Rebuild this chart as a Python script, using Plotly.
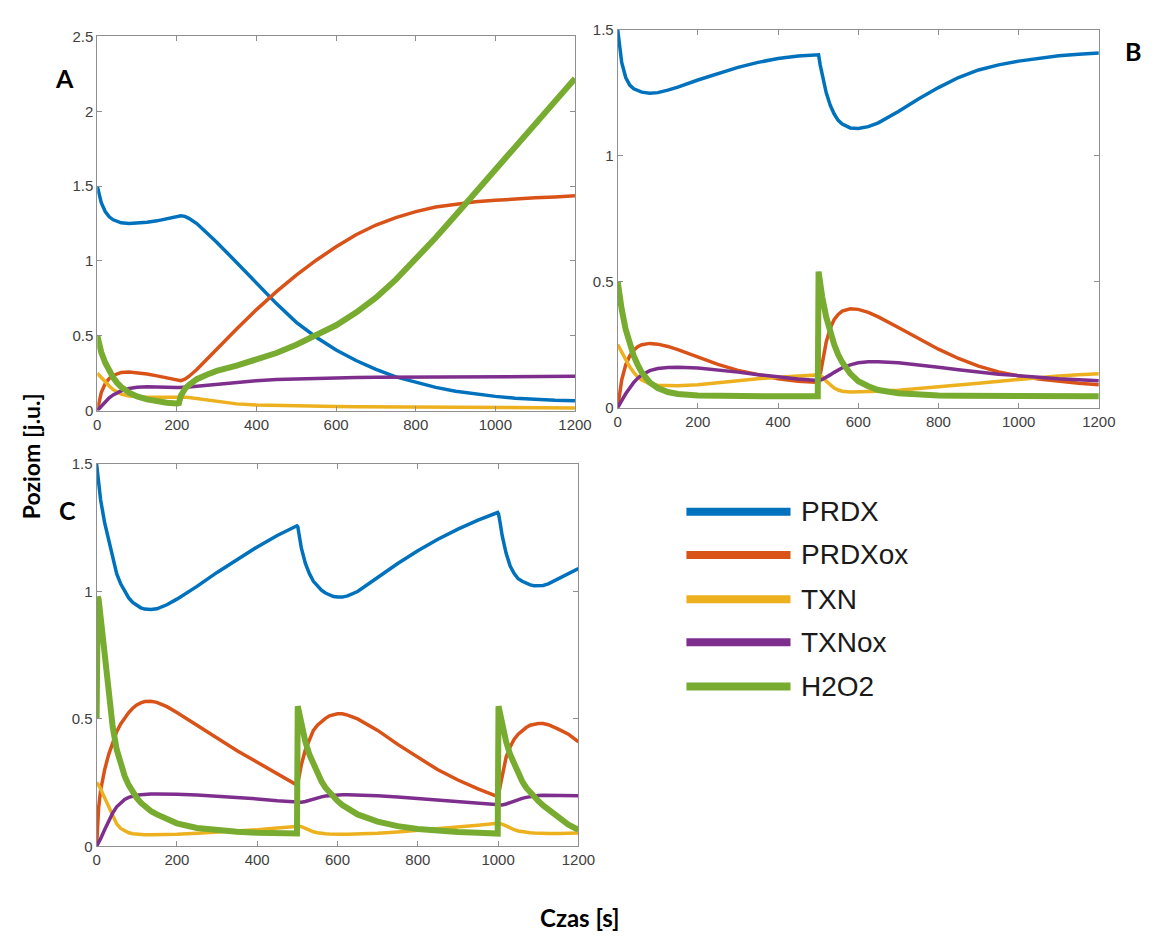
import plotly.graph_objects as go

W, H = 1161, 940

# ---------------- data ----------------
series_names = ["PRDX", "PRDXox", "TXN", "TXNox", "H2O2"]
series_colors = ["#0072BD", "#D95319", "#EDB120", "#7E2F8E", "#77AC30"]
series_widths = [3.5, 3.5, 3.5, 3.5, 6]

# Panel A
tA = [0, 5, 10, 20, 30, 40, 50, 60, 80, 100, 125, 150, 175, 200, 205, 210, 220, 230, 250, 275,
      300, 350, 400, 450, 500, 550, 600, 650, 700, 750, 800, 850, 900, 950, 1000, 1050, 1100, 1150, 1200]
A_PRDX = [1.5, 1.44, 1.39, 1.33, 1.295, 1.275, 1.262, 1.255, 1.25, 1.252, 1.258, 1.268, 1.28, 1.295, 1.3, 1.302, 1.298, 1.285, 1.25, 1.19,
          1.125, 0.99, 0.85, 0.715, 0.59, 0.49, 0.405, 0.335, 0.275, 0.225, 0.19, 0.155, 0.13, 0.11, 0.095, 0.083, 0.075, 0.069, 0.065]
A_PRDXox = [0, 0.07, 0.12, 0.18, 0.215, 0.235, 0.248, 0.255, 0.258, 0.254, 0.244, 0.232, 0.218, 0.205, 0.2, 0.2, 0.21, 0.228, 0.275, 0.34,
            0.41, 0.545, 0.675, 0.795, 0.905, 1.005, 1.095, 1.175, 1.24, 1.29, 1.33, 1.36, 1.38, 1.395, 1.405, 1.415, 1.422, 1.428, 1.435]
A_TXN = [0.25, 0.235, 0.22, 0.19, 0.165, 0.14, 0.125, 0.11, 0.098, 0.092, 0.09, 0.09, 0.091, 0.093, 0.093, 0.092, 0.09, 0.087, 0.08, 0.068,
         0.058, 0.045, 0.038, 0.034, 0.031, 0.029, 0.027, 0.025, 0.024, 0.023, 0.022, 0.021, 0.02, 0.02, 0.019, 0.019, 0.018, 0.018, 0.018]
A_TXNox = [0, 0.015, 0.03, 0.06, 0.085, 0.105, 0.12, 0.132, 0.148, 0.156, 0.16, 0.16, 0.158, 0.155, 0.154, 0.154, 0.156, 0.158, 0.163, 0.17,
           0.177, 0.19, 0.2, 0.207, 0.212, 0.216, 0.219, 0.221, 0.223, 0.224, 0.225, 0.226, 0.227, 0.227, 0.228, 0.228, 0.229, 0.229, 0.229]
A_H2O2 = [0.5, 0.44, 0.39, 0.32, 0.26, 0.22, 0.185, 0.158, 0.12, 0.095, 0.075, 0.062, 0.053, 0.047, 0.05, 0.1, 0.145, 0.17, 0.21, 0.24,
          0.265, 0.3, 0.34, 0.385, 0.44, 0.5, 0.57, 0.655, 0.755, 0.875, 1.01, 1.155, 1.305, 1.46, 1.61, 1.765, 1.92, 2.07, 2.22]

# Panel B
tB = [0, 5, 10, 20, 30, 40, 50, 60, 80, 100, 125, 150, 200, 250, 300, 350, 400, 450, 499, 501, 505, 510, 520, 530, 540, 550,
      560, 580, 600, 625, 650, 700, 750, 800, 850, 900, 950, 1000, 1050, 1100, 1150, 1200]
B_PRDX = [1.5, 1.43, 1.37, 1.31, 1.28, 1.265, 1.257, 1.252, 1.248, 1.25, 1.26, 1.272, 1.3, 1.326, 1.35, 1.37, 1.385, 1.395, 1.402, 1.4,
          1.36, 1.32, 1.25, 1.2, 1.165, 1.14, 1.125, 1.11, 1.108, 1.115, 1.13, 1.175, 1.225, 1.27, 1.31, 1.34, 1.36, 1.375, 1.387,
          1.396, 1.402, 1.407]
B_PRDXox = [0, 0.06, 0.11, 0.17, 0.205, 0.228, 0.242, 0.25, 0.255, 0.252, 0.243, 0.23, 0.2, 0.172, 0.148, 0.13, 0.115, 0.105, 0.098,
            0.1, 0.13, 0.18, 0.26, 0.315, 0.35, 0.37, 0.383, 0.392, 0.39, 0.378, 0.36, 0.318, 0.275, 0.232, 0.195, 0.165, 0.142,
            0.126, 0.114, 0.105, 0.097, 0.091]
B_TXN = [0.25, 0.235, 0.22, 0.19, 0.162, 0.14, 0.122, 0.11, 0.095, 0.089, 0.087, 0.087, 0.091, 0.1, 0.108, 0.115, 0.121, 0.126, 0.13,
         0.13, 0.128, 0.122, 0.105, 0.09, 0.078, 0.07, 0.065, 0.062, 0.062, 0.063, 0.065, 0.069, 0.075, 0.082, 0.09, 0.097, 0.105,
         0.113, 0.12, 0.126, 0.131, 0.135]
B_TXNox = [0, 0.012, 0.028, 0.055, 0.08, 0.1, 0.117, 0.13, 0.147, 0.155, 0.159, 0.16, 0.157, 0.15, 0.141, 0.131, 0.122, 0.114, 0.108,
           0.108, 0.109, 0.112, 0.12, 0.13, 0.14, 0.15, 0.158, 0.17, 0.178, 0.182, 0.182, 0.178, 0.17, 0.16, 0.15, 0.141, 0.133,
           0.127, 0.12, 0.115, 0.111, 0.107]
B_H2O2 = [0.5, 0.44, 0.39, 0.31, 0.25, 0.205, 0.17, 0.14, 0.1, 0.078, 0.062, 0.054, 0.048, 0.046, 0.045, 0.045, 0.045, 0.045, 0.045,
          0.54, 0.49, 0.44, 0.36, 0.3, 0.25, 0.21, 0.18, 0.135, 0.105, 0.085, 0.07, 0.057, 0.051, 0.048, 0.047, 0.046, 0.045, 0.045,
          0.045, 0.045, 0.045, 0.045]

# Panel C
tC = [0, 3, 5, 10, 20, 30, 40, 50, 60, 70, 80, 90, 100, 110, 120, 135, 150, 175, 200, 250, 300, 350, 400, 450, 499, 501, 505, 510,
      520, 530, 540, 550, 560, 570, 580, 590, 600, 612, 625, 650, 700, 750, 800, 850, 900, 950, 999, 1001, 1005, 1010, 1020,
      1030, 1040, 1050, 1060, 1070, 1080, 1090, 1100, 1112, 1125, 1150, 1175, 1200]
C_PRDX = [1.5, 1.45, 1.42, 1.36, 1.27, 1.2, 1.13, 1.07, 1.03, 1.0, 0.975, 0.957, 0.945, 0.936, 0.931, 0.929, 0.932, 0.948, 0.97,
          1.02, 1.075, 1.125, 1.175, 1.22, 1.258, 1.255, 1.22, 1.17, 1.11, 1.07, 1.04, 1.02, 1.005, 0.994, 0.986, 0.98, 0.978,
          0.978, 0.983, 1.0, 1.055, 1.11, 1.16, 1.205, 1.245, 1.28, 1.31, 1.305, 1.27, 1.22, 1.15, 1.1, 1.07, 1.05, 1.04, 1.032,
          1.026, 1.023, 1.022, 1.024, 1.03, 1.05, 1.07, 1.09]
C_PRDXox = [0, 0.1, 0.15, 0.22, 0.3, 0.36, 0.41, 0.45, 0.48, 0.505, 0.525, 0.542, 0.555, 0.563, 0.568, 0.569, 0.565, 0.548, 0.525,
            0.475, 0.425, 0.375, 0.33, 0.285, 0.24, 0.245, 0.28, 0.32, 0.38, 0.42, 0.455, 0.475, 0.49, 0.502, 0.512, 0.517, 0.52,
            0.52, 0.515, 0.5, 0.455, 0.4, 0.35, 0.3, 0.26, 0.225, 0.195, 0.2, 0.235, 0.28, 0.35, 0.39, 0.42, 0.44, 0.455, 0.466,
            0.475, 0.48, 0.482, 0.482, 0.477, 0.46, 0.44, 0.41]
C_TXN = [0.25, 0.245, 0.24, 0.225, 0.19, 0.15, 0.115, 0.088, 0.07, 0.06, 0.053, 0.049, 0.047, 0.046, 0.045, 0.045, 0.045, 0.046,
         0.047, 0.051, 0.055, 0.06, 0.065, 0.072, 0.08, 0.08, 0.079, 0.077, 0.07, 0.063, 0.057, 0.053, 0.05, 0.049, 0.048, 0.047,
         0.047, 0.047, 0.047, 0.048, 0.051, 0.056, 0.062, 0.069, 0.076, 0.083, 0.09, 0.09, 0.089, 0.087, 0.08, 0.072, 0.065, 0.06,
         0.057, 0.055, 0.053, 0.052, 0.051, 0.05, 0.05, 0.05, 0.051, 0.052]
C_TXNox = [0, 0.008, 0.015, 0.03, 0.065, 0.1, 0.13, 0.155, 0.172, 0.184, 0.192, 0.197, 0.2, 0.202, 0.204, 0.205, 0.205, 0.205,
           0.204, 0.201, 0.197, 0.192, 0.186, 0.179, 0.172, 0.172, 0.172, 0.173, 0.176, 0.181, 0.186, 0.19, 0.194, 0.197, 0.199,
           0.2, 0.201, 0.202, 0.202, 0.201, 0.198, 0.193, 0.187, 0.181, 0.175, 0.168, 0.161, 0.161, 0.161, 0.162, 0.166, 0.172,
           0.178, 0.184, 0.188, 0.192, 0.195, 0.197, 0.199, 0.2, 0.2, 0.2, 0.199, 0.198]
C_H2O2 = [0.5, 0.98, 0.97, 0.9, 0.76, 0.6, 0.47, 0.38, 0.32, 0.275, 0.24, 0.212, 0.19, 0.171, 0.155, 0.138, 0.125, 0.105, 0.09,
          0.072, 0.062, 0.057, 0.053, 0.051, 0.05, 0.55, 0.52, 0.48, 0.41, 0.36, 0.32, 0.285, 0.255, 0.23, 0.21, 0.192, 0.178,
          0.162, 0.148, 0.125, 0.097, 0.079, 0.068, 0.061, 0.056, 0.053, 0.05, 0.55, 0.52, 0.48, 0.41, 0.36, 0.32, 0.285, 0.255,
          0.23, 0.21, 0.192, 0.178, 0.16, 0.145, 0.11, 0.085, 0.065]

x_ticks = [0, 200, 400, 600, 800, 1000, 1200]
yA_ticks = [0, 0.5, 1, 1.5, 2, 2.5]
yBC_ticks = [0, 0.5, 1, 1.5]
panel_labels = ["A", "B", "C"]

panels = [
    (tA, [A_PRDX, A_PRDXox, A_TXN, A_TXNox, A_H2O2]),
    (tB, [B_PRDX, B_PRDXox, B_TXN, B_TXNox, B_H2O2]),
    (tC, [C_PRDX, C_PRDXox, C_TXN, C_TXNox, C_H2O2]),
]

# ---------------- figure ----------------
def px(x):
    return x / W

def py(y):
    return 1 - y / H

fig = go.Figure()
axis_suffix = ["", "2", "3"]
for i, (t, ys) in enumerate(panels):
    for name, col, wd, y in zip(series_names, series_colors, series_widths, ys):
        fig.add_trace(go.Scatter(
            x=t, y=y, mode="lines", name=name, showlegend=False,
            line=dict(color=col, width=wd),
            xaxis="x" + axis_suffix[i], yaxis="y" + axis_suffix[i],
        ))

tickfont = dict(family="Liberation Sans, Arial, sans-serif", size=15, color="#404040")
common = dict(showline=True, mirror="ticks", linecolor="#8f8f8f", linewidth=1,
              ticks="inside", ticklen=5, tickcolor="#8f8f8f", showgrid=False,
              zeroline=False, tickfont=tickfont)

domains = [
    ((95, 581.5), (28, 409)),
    ((625, 1115), (21, 406)),
    ((94.3, 585), (463.5, 852.7)),
]
yranges = [[0, 2.5], [0, 1.5], [0, 1.5]]
yticks = [yA_ticks, yBC_ticks, yBC_ticks]

layout = dict(
    width=W, height=H, margin=dict(l=0, r=0, t=0, b=0),
    paper_bgcolor="white", plot_bgcolor="white", showlegend=False,
)
for i, ((x0, x1), (y0, y1)) in enumerate(domains):
    s = axis_suffix[i]
    layout["xaxis" + s] = dict(common, domain=[px(x0), px(x1)], range=[0, 1200],
                               tickvals=x_ticks, ticktext=[str(v) for v in x_ticks],
                               anchor="y" + s)
    layout["yaxis" + s] = dict(common, domain=[py(y1), py(y0)], range=yranges[i],
                               tickvals=yticks[i], ticktext=[("%g" % v) for v in yticks[i]],
                               anchor="x" + s)
fig.update_layout(**layout)

bold_font = "Lato, Open Sans, sans-serif"
annotations = []
label_pos = [(62, 70), (1150, 43), (65, 510)]
for lab, (lx, ly) in zip(panel_labels, label_pos):
    annotations.append(dict(text="<b>%s</b>" % lab, x=px(lx), y=py(ly), xref="paper", yref="paper",
                            showarrow=False, xanchor="center", yanchor="middle",
                            font=dict(family=bold_font, size=25, color="black")))
annotations.append(dict(text="<b>Poziom [j.u.]</b>", x=px(27), y=py(456), xref="paper", yref="paper",
                        showarrow=False, textangle=-90, xanchor="center", yanchor="middle",
                        font=dict(family=bold_font, size=23, color="black")))
annotations.append(dict(text="<b>Czas [s]</b>", x=px(587), y=py(925), xref="paper", yref="paper",
                        showarrow=False, xanchor="center", yanchor="middle",
                        font=dict(family=bold_font, size=24, color="black")))

# legend drawn manually (keys as shapes, labels as text)
shapes = []
leg_y = [512, 556, 601, 645, 690]
for name, col, ly in zip(series_names, series_colors, leg_y):
    shapes.append(dict(type="line", xref="paper", yref="paper", x0=px(695), x1=px(801),
                       y0=py(ly), y1=py(ly), line=dict(color=col, width=8)))
    annotations.append(dict(text=name, x=px(810), y=py(ly), xref="paper", yref="paper",
                            showarrow=False, xanchor="left", yanchor="middle",
                            font=dict(family="Liberation Sans, Arial, sans-serif", size=28, color="#1a1a1a")))

fig.update_layout(annotations=annotations, shapes=shapes)
fig.write_html("out.html")
